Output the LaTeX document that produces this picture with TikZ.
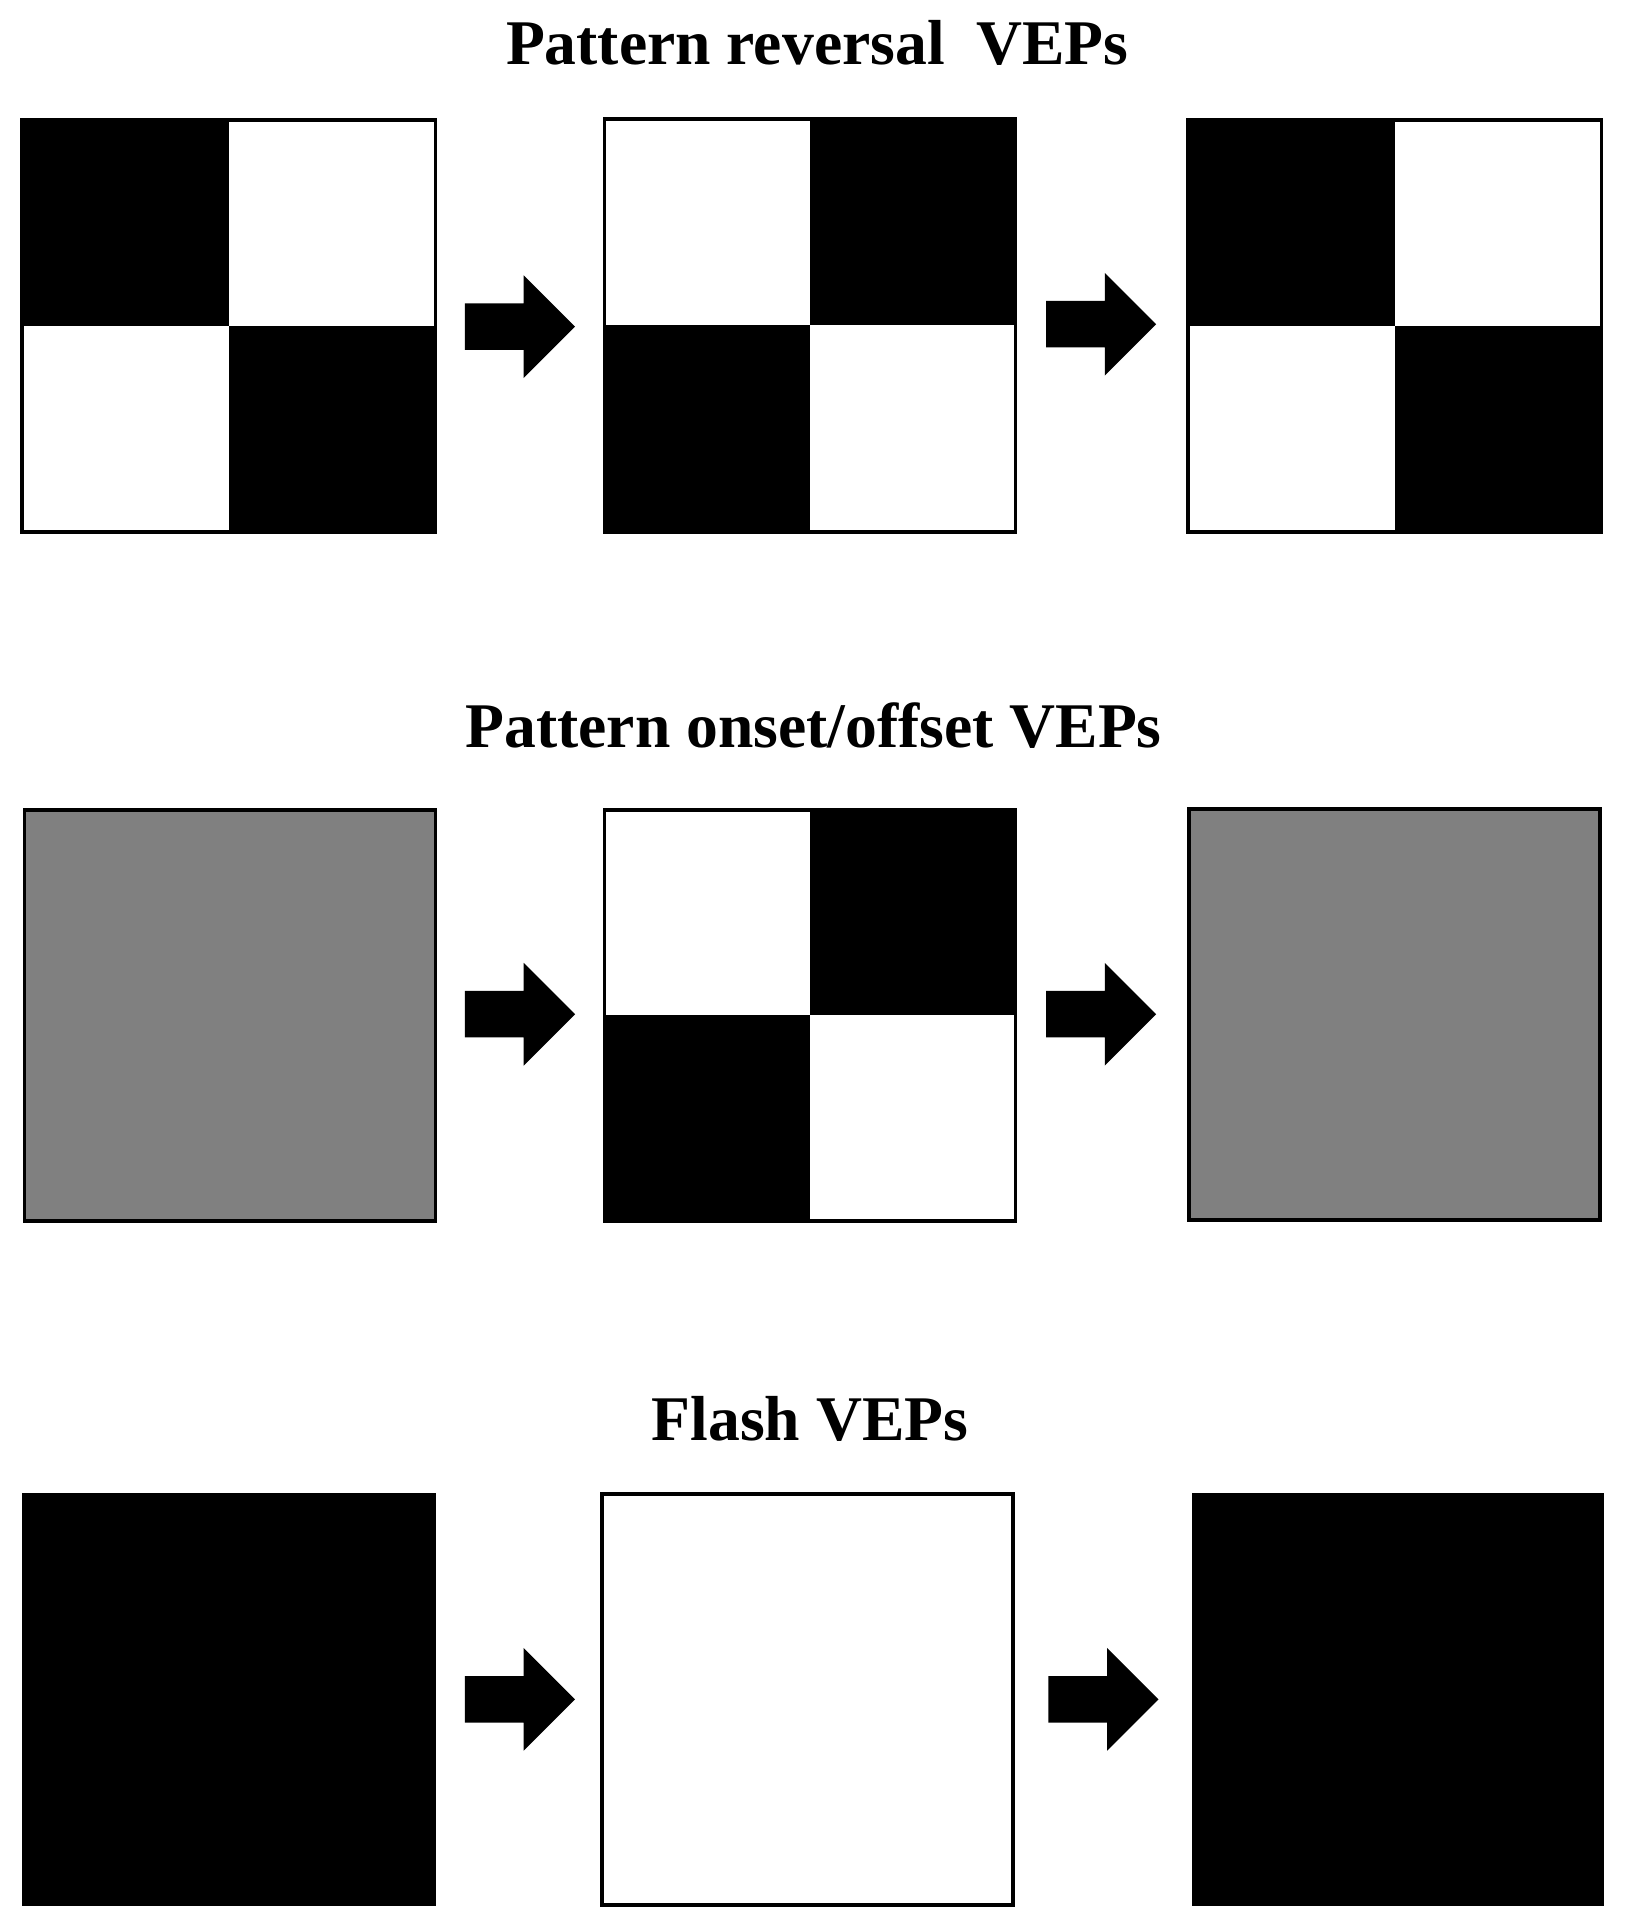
\documentclass[tikz,border=0pt]{standalone}
\usepackage{fontspec}
\setmainfont{Liberation Serif}
\begin{document}
\begin{tikzpicture}[x=0.5pt,y=-0.5pt,
  frame/.style={draw=black,line width=1.5pt},
  ttl/.style={font=\bfseries\fontsize{26}{30}\selectfont,anchor=center}]
\useasboundingbox (0,0) rectangle (1330,1571);
% checker: #1 x0,#2 y0,#3 x1,#4 y1,#5 top-left black? 
\newcommand{\chk}[6]{%
  \node[minimum size=0pt,inner sep=0pt] (#6) at ({(#1+#3)/2},{(#2+#4)/2}) {};
  \fill[white] (#1,#2) rectangle (#3,#4);
  \ifnum#5=1
    \fill (#1,#2) rectangle ({(#1+#3)/2},{(#2+#4)/2});
    \fill ({(#1+#3)/2},{(#2+#4)/2}) rectangle (#3,#4);
  \else
    \fill ({(#1+#3)/2},#2) rectangle (#3,{(#2+#4)/2});
    \fill (#1,{(#2+#4)/2}) rectangle ({(#1+#3)/2},#4);
  \fi
  \draw[frame] (#1,#2) rectangle (#3,#4);}
\newcommand{\arr}[3]{%
  \coordinate (#3) at (#1,#2);
  \fill (#3) ++(0,-19) -- ++(48,0) -- ++(0,-23) -- ++(42,42) -- ++(-42,42) -- ++(0,-23) -- ++(-48,0) -- cycle;}
\node[ttl] (t1) at (668,35) {Pattern reversal\ \ VEPs};
\chk{18}{98}{356}{435}{1}{a1}
\chk{494}{97}{830}{435}{0}{a2}
\chk{971}{98}{1309}{435}{1}{a3}
\arr{380}{267}{r1}
\arr{855}{265}{r2}
\node[ttl] (t2) at (665,593) {Pattern onset/offset VEPs};
\node[frame,fill=gray!100!white,fill=black!50,minimum width=168pt,minimum height=168pt,inner sep=0pt] (b1) at (188,830) {};
\chk{494}{662}{830}{998}{0}{b2}
\node[frame,fill=black!50,minimum width=168pt,minimum height=168pt,inner sep=0pt] (b3) at (1140,829) {};
\arr{380}{829}{r3}
\arr{855}{829}{r4}
\node[ttl] (t3) at (662,1160) {Flash VEPs};
\fill (18,1220) rectangle (356,1558);
\node[minimum size=0pt,inner sep=0pt] (c1) at (187,1389) {};
\node[frame,fill=white,minimum width=168pt,minimum height=168pt,inner sep=0pt] (c2) at (660,1389) {};
\fill (974,1220) rectangle (1311,1558);
\node[minimum size=0pt,inner sep=0pt] (c3) at (1142,1389) {};
\arr{380}{1389}{r5}
\arr{857}{1389}{r6}
\end{tikzpicture}
\end{document}
